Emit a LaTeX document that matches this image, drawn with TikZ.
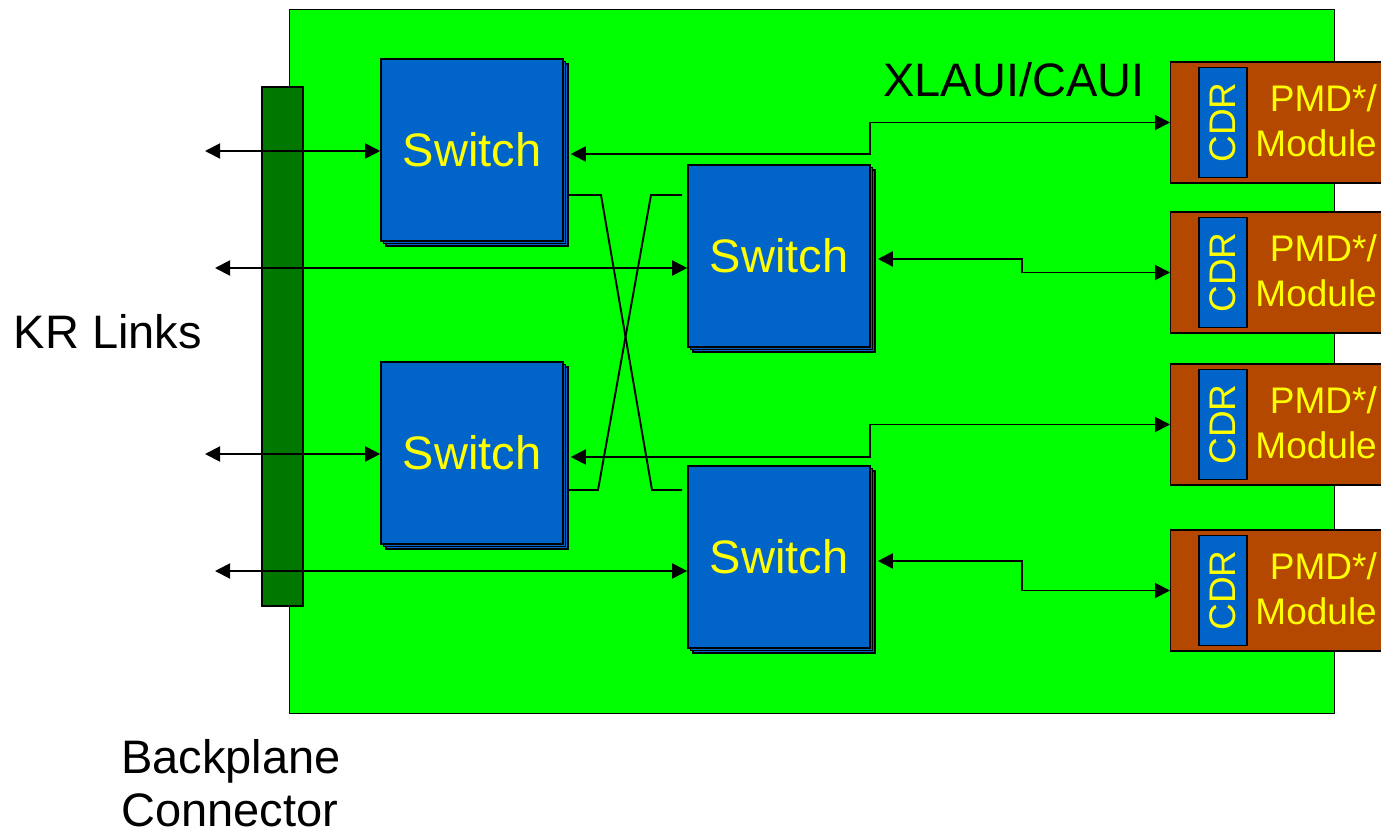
\documentclass[tikz,border=0pt]{standalone}
\usepackage{fontspec}
\setmainfont{Liberation Sans}
\usepackage{tikz}
\usetikzlibrary{arrows.meta,positioning,shadows}
\definecolor{boardgreen}{HTML}{00FF00}
\definecolor{connGreen}{HTML}{007800}
\definecolor{chipBlue}{HTML}{0064C8}
\definecolor{modBrown}{HTML}{B44800}
\definecolor{txtYellow}{HTML}{FFFF00}
\tikzset{
  net/board/.style={draw, thin, fill=boardgreen},
  net/connector/.style={draw, line width=1.2pt, fill=connGreen, minimum width=41pt, minimum height=519pt, inner sep=0pt},
  net/switch/.style={draw, line width=1.6pt, fill=chipBlue, minimum width=182pt, minimum height=182pt, inner sep=0pt,
    double copy shadow={shadow xshift=2.5pt, shadow yshift=-2.5pt}, text=txtYellow, font=\fontsize{47}{56}\selectfont},
  net/module/.style={draw, line width=1.2pt, fill=modBrown, minimum width=225pt, minimum height=121pt, inner sep=0pt, anchor=west},
  net/cdr/.style={draw, line width=1.2pt, fill=chipBlue, minimum width=48pt, minimum height=110pt, inner sep=0pt},
  net/cdrtext/.style={text=txtYellow, rotate=90, font=\fontsize{37}{40}\selectfont},
  net/pmd/.style={text=txtYellow, align=right, anchor=east, inner sep=0pt, font=\fontsize{37}{45}\selectfont},
  net/label/.style={font=\fontsize{47}{53}\selectfont, inner sep=0pt},
  net/link/.style={line width=1.9pt, {Triangle[length=15pt,width=15pt]}-{Triangle[length=15pt,width=15pt]}},
  net/wire/.style={line width=1.9pt}
}
\begin{document}
\begin{tikzpicture}[x=1pt, y=-1pt]
  \clip (0,0) rectangle (1381,832);
  \fill[white] (0,0) rectangle (1381,832);

  \draw[net/board] (289,9) rectangle (1334,713);
  \node[net/connector] (bp) at (282.5,346.5) {};

  \node[net/switch] (s1) at (472,150) {Switch};
  \node[net/switch] (s2) at (779,256) {Switch};
  \node[net/switch] (s3) at (472,453) {Switch};
  \node[net/switch] (s4) at (779,557) {Switch};

  % optics modules
  \foreach \name/\y in {m1/122.5, m2/272.5, m3/424.5, m4/590.5} {
    \node[net/module] (\name) at (1170,\y) {};
    \node[net/cdr] (\name cdr) at (1223,\y) {};
    \node[net/cdrtext] at (\name cdr) {CDR};
    \node[net/pmd] at (1377,\y-2) {PMD*/\\Module};
  }

  % backplane side
  \coordinate (kr1) at (205,151);
  \coordinate (kr2) at (215,268);
  \coordinate (kr3) at (205,454);
  \coordinate (kr4) at (215,571);
  \draw[net/link] (kr1) -- (kr1 -| s1.west);
  \draw[net/link] (kr2) -- (kr2 -| s2.west);
  \draw[net/link] (kr3) -- (kr3 -| s3.west);
  \draw[net/link] (kr4) -- (kr4 -| s4.west);

  % module side
  \draw[net/link] ([xshift=7pt,yshift=-4pt]s1.east) -- (870,154) |- (m1.west);
  \draw[net/link] ([xshift=7pt,yshift=-3pt]s2.east) -- (1022,259) |- (m2.west);
  \draw[net/link] ([xshift=7pt,yshift=-4pt]s3.east) -- (870,457) |- (m3.west);
  \draw[net/link] ([xshift=7pt,yshift=-4pt]s4.east) -- (1022,561) |- (m4.west);

  % cross links
  \draw[net/wire] ([xshift=4pt]s1.east |- 0,195) -- (601,195) -- (652,490) -- ([xshift=-5pt]s4.west |- 0,490);
  \draw[net/wire] ([xshift=4pt]s3.east |- 0,490) -- (598,490) -- (651,195) -- ([xshift=-5pt]s2.west |- 0,195);

  \node[net/label] (xl) at (1014,80) {XLAUI/CAUI};
  \node[net/label] (kr) at (108,332) {KR Links};
  \node[net/label, align=left, anchor=west] (bpl) at (121,783) {Backplane\\Connector};
\end{tikzpicture}
\end{document}
